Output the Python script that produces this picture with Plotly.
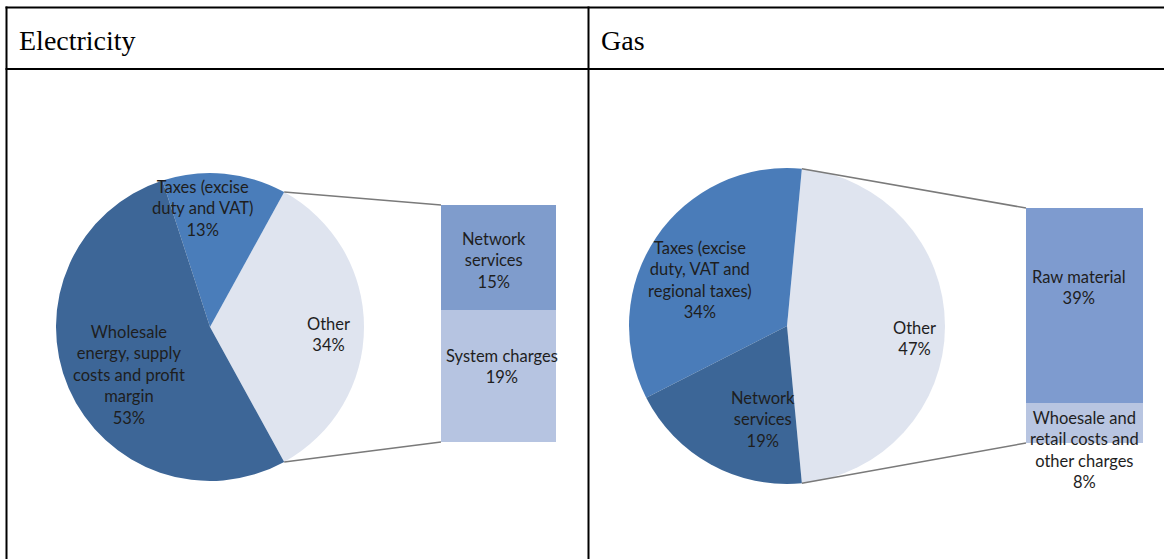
import math
import plotly.graph_objects as go

W, H = 1164, 559

# ---- data -------------------------------------------------------------
headers = ["Electricity", "Gas"]

elec_pie_labels = ["Other", "Taxes (excise<br>duty and VAT)",
                   "Wholesale<br>energy, supply<br>costs and profit<br>margin"]
elec_bar_labels = ["Network<br>services", "System charges"]
elec_bar_values = [15, 19]
elec_pie_rest = [13, 53]          # taxes, wholesale (Other = sum of bar)

gas_pie_labels = ["Other", "Taxes (excise<br>duty, VAT and<br>regional taxes)",
                  "Network<br>services"]
gas_bar_labels = ["Raw material", "Whoesale and<br>retail costs and<br>other charges"]
gas_bar_values = [39, 8]
gas_pie_rest = [34, 19]           # taxes, network services

# ---- styling ----------------------------------------------------------
LABEL_FONT = dict(family="Lato, Open Sans, sans-serif", size=16.5, color="#1e1e1e")
HEAD_FONT = dict(family="Liberation Serif, Times New Roman, serif", size=28, color="#000000")
CONNECTOR = dict(color="#7a7a7a", width=1.6)

panels = [
    dict(header=headers[0], head_x=17,
         pie_labels=elec_pie_labels, pie_rest=elec_pie_rest,
         bar_labels=elec_bar_labels, bar_values=elec_bar_values,
         pie_colors=["#dfe4ef", "#4a7dba", "#3d6697"],
         bar_colors=["#7f9ccc", "#b6c4e1"],
         cx=210, cy=327, r=154,
         bar_x=(441, 556), bar_y=(205, 442),
         # polar placement of slice labels: (fraction of radius, angle nudge in deg)
         pie_text=[(0.77, -3.4), (0.77, 8.8), (0.61, 7.0)],
         bar_text=[(-5, -3.5), (3.5, 9)]),
    dict(header=headers[1], head_x=599,
         pie_labels=gas_pie_labels, pie_rest=gas_pie_rest,
         bar_labels=gas_bar_labels, bar_values=gas_bar_values,
         pie_colors=["#dfe4ef", "#4a7cb9", "#3c6697"],
         bar_colors=["#7e9bcf", "#b8c5e1"],
         cx=787, cy=326, r=158,
         bar_x=(1026, 1143), bar_y=(208, 443),
         pie_text=[(0.81, -5.8), (0.62, 6.3), (0.61, 14.3)],
         bar_text=[(-6, 18.5), (0, -27)]),
]


def px(x):
    return x / W


def py(y):
    return 1 - y / H


fig = go.Figure()
shapes = []
annotations = []

for k, p in enumerate(panels):
    other = sum(p["bar_values"])
    pie_values = [other] + p["pie_rest"]
    total = sum(pie_values)
    half = other / total * 180.0      # half-angle of the "Other" slice

    cx, cy, r = p["cx"], p["cy"], p["r"]
    fig.add_trace(go.Pie(
        labels=[l.replace("<br>", " ") for l in p["pie_labels"]],
        values=pie_values,
        sort=False,
        direction="counterclockwise",
        rotation=90 - half,
        marker=dict(colors=p["pie_colors"], line=dict(width=0)),
        textinfo="none",
        hoverinfo="label+percent",
        showlegend=False,
        domain=dict(x=[px(cx - r), px(cx + r)], y=[py(cy + r), py(cy - r)]),
    ))

    # slice labels placed along each slice's mid angle
    start = -half
    for label, val, (frac, nudge) in zip(p["pie_labels"], pie_values, p["pie_text"]):
        span = val / total * 360.0
        mid = math.radians(start + span / 2 + nudge)
        start += span
        tx = cx + frac * r * math.cos(mid)
        ty = cy - frac * r * math.sin(mid)
        pct = round(val / total * 100)
        annotations.append(dict(
            x=px(tx), y=py(ty), xref="paper", yref="paper",
            text=f"{label}<br>{pct}%", showarrow=False,
            font=LABEL_FONT, align="center", xanchor="center", yanchor="middle"))

    # stacked bar breaking down "Other"
    xa = "x" if k == 0 else f"x{k + 1}"
    ya = "y" if k == 0 else f"y{k + 1}"
    order = list(range(len(p["bar_values"])))[::-1]   # bottom segment first
    base = 0
    for i in order:
        v = p["bar_values"][i]
        fig.add_trace(go.Bar(
            x=[0], y=[v], width=1, xaxis=xa, yaxis=ya,
            marker=dict(color=p["bar_colors"][i], line=dict(width=0)),
            name=p["bar_labels"][i].replace("<br>", " "),
            showlegend=False, hoverinfo="name+y"))
        dx, dy = p["bar_text"][i]
        annotations.append(dict(
            x=0, y=base + v / 2, xref=xa, yref=ya,
            text=f"{p['bar_labels'][i]}<br>{v}%", showarrow=False,
            xshift=dx, yshift=dy, font=LABEL_FONT, align="center"))
        base += v

    axis_suffix = "" if k == 0 else str(k + 1)
    bx0, bx1 = p["bar_x"]
    by0, by1 = p["bar_y"]
    fig.update_layout(**{
        f"xaxis{axis_suffix}": dict(domain=[px(bx0), px(bx1)], range=[-0.5, 0.5],
                                   visible=False, fixedrange=True),
        f"yaxis{axis_suffix}": dict(domain=[py(by1), py(by0)], range=[0, other],
                                   visible=False, fixedrange=True),
    })

    # connector lines from the "Other" slice edges to the bar corners
    ux = cx + r * math.cos(math.radians(half))
    uy = cy - r * math.sin(math.radians(half))
    lx = ux
    ly = cy + r * math.sin(math.radians(half))
    shapes.append(dict(type="line", xref="paper", yref="paper",
                       x0=px(ux), y0=py(uy), x1=px(bx0), y1=py(by0), line=CONNECTOR))
    shapes.append(dict(type="line", xref="paper", yref="paper",
                       x0=px(lx), y0=py(ly), x1=px(bx0), y1=py(by1), line=CONNECTOR))

    # column header
    annotations.append(dict(
        x=px(p["head_x"]), y=py(40), xref="paper", yref="paper",
        text=p["header"], showarrow=False, font=HEAD_FONT,
        xanchor="left", yanchor="middle"))

# table grid
GRID = dict(color="#000000", width=2)
for y in (7.5, 69):
    shapes.append(dict(type="line", xref="paper", yref="paper",
                       x0=px(5.5), x1=1, y0=py(y), y1=py(y), line=GRID))
for x in (6.5, 588.5):
    shapes.append(dict(type="line", xref="paper", yref="paper",
                       x0=px(x), x1=px(x), y0=py(6.5), y1=0, line=GRID))

fig.update_layout(
    width=W, height=H,
    margin=dict(l=0, r=0, t=0, b=0),
    paper_bgcolor="#ffffff", plot_bgcolor="#ffffff",
    barmode="stack", bargap=0,
    shapes=shapes, annotations=annotations,
    showlegend=False,
)

fig.write_html("out.html")
